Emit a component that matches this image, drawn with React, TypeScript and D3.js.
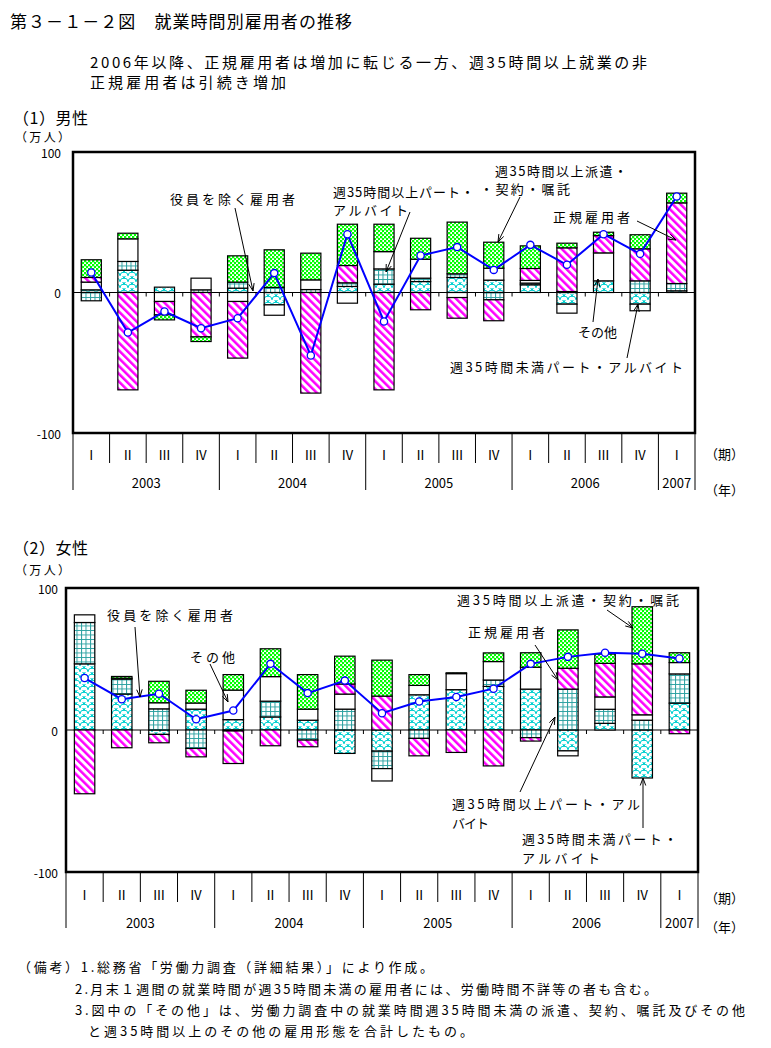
import React from 'react';
import * as d3 from 'd3';

const FONT = "'Noto Sans CJK JP', 'Noto Sans', sans-serif";

const quarterLabels = ['Ⅰ', 'Ⅱ', 'Ⅲ', 'Ⅳ', 'Ⅰ', 'Ⅱ', 'Ⅲ', 'Ⅳ', 'Ⅰ', 'Ⅱ', 'Ⅲ', 'Ⅳ', 'Ⅰ', 'Ⅱ', 'Ⅲ', 'Ⅳ', 'Ⅰ'];
const yearLabels = ['2003', '2004', '2005', '2006', '2007'];
const yearStarts = [0, 4, 8, 12, 16];
const yearEnds = [4, 8, 12, 16, 17];
const yTicks = [100, 0, -100];

const seriesKeys = ['lt35', 'ge35', 'other', 'regular', 'dispatch'];
const seriesNames = ['週35時間未満パート・アルバイト', '週35時間以上パート・アルバイト', 'その他', '正規雇用者', '週35時間以上派遣・契約・嘱託'];

// (1) 男性 (万人, 前年同期差)
const maleLt35 = [1.9, 15.9, 3.8, 0, 3.1, -8.8, 0, 4.3, 5.9, 7.8, 10.7, 8.8, 5.5, -8.3, 8.3, -8.3, 1.2];
const maleGe35 = [-5.9, 6.2, 0, 1.9, 4.3, 3.6, 2.1, 2.6, 10.9, 2.4, 2.6, -5.2, 1.2, 0.7, 0, 8.3, 5.2];
const maleOther = [5.5, 16.1, -6.4, 8.3, -6.4, -7.4, 6.9, -7.6, 12.3, 13.5, -3.6, 8.5, 1.9, -6.4, 19.9, -4.7, 0];
const maleRegular = [3.3, -69.3, -9.5, -31.6, -40.3, 0, -71.6, 12.3, -69.3, -12.3, -14.7, -14.9, 8.5, 31.1, 12.3, 22.8, 57.4];
const maleDispatch = [12.6, 4.0, -3.6, -3.3, 18.7, 26.8, 19.0, 29.4, 19.5, 14.9, 36.8, 18.5, 16.1, 3.3, 2.4, 10.0, 6.9];
const maleTotal = [14.2, -28.5, -13.5, -25.4, -18.3, 13.8, -44.8, 41.5, -20.6, 26.3, 32.3, 16.1, 33.9, 19.7, 41.5, 27.5, 68.3];

// (2) 女性
const femaleLt35 = [46.6, 25.3, -3.1, 14.7, 7.3, 9.2, 6.9, -16.5, -14.9, 24.8, 28.4, 30.7, 28.8, -14.7, 4.7, -33.8, 18.9];
const femaleGe35 = [29.1, 10.6, 14.9, -13.0, -0.7, 11.1, -7.1, 14.7, -12.3, -5.9, 0, 4.5, -5.4, 28.8, 9.9, 6.9, 20.6];
const femaleOther = [5.4, 0.6, 4.3, 4.3, 20.8, 17.3, 7.8, 10.6, -8.7, 6.6, 11.3, 13.0, 15.4, -3.5, 8.7, 3.8, 8.0];
const femaleRegular = [-44.9, -12.5, -5.9, -5.9, -22.9, -11.1, -4.7, 7.1, 23.9, -12.3, -15.8, -25.3, -2.4, 14.7, 23.6, 35.9, -2.6];
const femaleDispatch = [0, 1.2, 15.1, 9.0, 10.9, 19.6, 24.3, 19.6, 25.3, 7.6, 0.6, 6.1, 10.2, 27.0, 6.6, 40.2, 6.9];
const femaleTotal = [36.6, 21.7, 25.5, 7.6, 13.7, 46.6, 26.0, 34.8, 11.8, 20.1, 23.2, 29.1, 46.6, 51.5, 54.4, 53.7, 50.4];

const patternIds = ['pWave', 'pGrid', 'pWhite', 'pPink', 'pGreen'];

type TL = { t: string; x: number; y: number; w: number };
type Ann = { lines: TL[]; arrow: [number, number, number, number] };

const maleAnns: Ann[] = [
  { lines: [{ t: '役員を除く雇用者', x: 170, y: 198, w: 125 }], arrow: [235, 208, 253, 291] },
  { lines: [{ t: '週35時間以上パート・', x: 333, y: 191, w: 141 }, { t: 'アルバイト', x: 333, y: 209, w: 75 }], arrow: [410, 212, 386, 272] },
  { lines: [{ t: '週35時間以上派遣・', x: 495, y: 170, w: 132 }, { t: '・契約・嘱託', x: 480, y: 188, w: 90 }], arrow: [520, 197, 498, 242] },
  { lines: [{ t: '正規雇用者', x: 553, y: 216, w: 77 }], arrow: [637, 221, 676, 240] },
  { lines: [{ t: 'その他', x: 578, y: 331, w: 39 }], arrow: [593, 322, 598, 279] },
  { lines: [{ t: '週35時間未満パート・アルバイト', x: 450, y: 366, w: 233 }], arrow: [627, 358, 638, 304] },
];

const femaleAnns: Ann[] = [
  { lines: [{ t: '役員を除く雇用者', x: 107, y: 614, w: 126 }], arrow: [135, 627, 140, 697] },
  { lines: [{ t: 'その他', x: 190, y: 656, w: 45 }], arrow: [210, 664, 228, 702] },
  { lines: [{ t: '週35時間以上派遣・契約・嘱託', x: 457, y: 599, w: 222 }], arrow: [607, 610, 633, 628] },
  { lines: [{ t: '正規雇用者', x: 468, y: 631, w: 77 }], arrow: [535, 645, 558, 680] },
  { lines: [{ t: '週35時間以上パート・アル', x: 452, y: 803, w: 188 }, { t: 'バイト', x: 452, y: 822, w: 37 }], arrow: [520, 792, 555, 717] },
  { lines: [{ t: '週35時間未満パート・', x: 522, y: 838, w: 155 }, { t: 'アルバイト', x: 522, y: 857, w: 78 }], arrow: [643, 828, 643, 778] },
];

function Arrow({ a }: { a: [number, number, number, number] }) {
  const [x1, y1, x2, y2] = a;
  const ang = Math.atan2(y2 - y1, x2 - x1);
  const L = 8, s = 0.35;
  const p1 = [x2 - L * Math.cos(ang - s), y2 - L * Math.sin(ang - s)];
  const p2 = [x2 - L * Math.cos(ang + s), y2 - L * Math.sin(ang + s)];
  return (
    <g stroke="#000" strokeWidth={1} fill="none">
      <line x1={x1} y1={y1} x2={x2} y2={y2} />
      <polyline points={`${p1[0]},${p1[1]} ${x2},${y2} ${p2[0]},${p2[1]}`} />
    </g>
  );
}

function Txt({ l, size = 13 }: { l: TL; size?: number }) {
  return (
    <text x={l.x} y={l.y} fontSize={size} fontFamily={FONT} dominantBaseline="central"
      textLength={l.w} lengthAdjust="spacing" fill="#000">{l.t}</text>
  );
}

type PanelProps = {
  x0: number; x1: number; yTop: number; yBot: number;
  data: number[][]; total: number[];
  labelRight: number; qBottom: number; yrBottom: number; qLabelY: number; yrLabelY: number;
  kiX: number; kiY: number; nenY: number; anns: Ann[];
};

function Panel(p: PanelProps) {
  const x = d3.scaleBand<number>().domain(d3.range(17)).range([p.x0, p.x1]).paddingInner(0.45).paddingOuter(0.225);
  const y = d3.scaleLinear().domain([-100, 100]).range([p.yBot, p.yTop]);
  const rows = d3.range(17).map(i => {
    const r: any = {};
    seriesKeys.forEach((k, j) => { r[k] = p.data[j][i]; });
    return r;
  });
  const stacked = d3.stack<any>().keys(seriesKeys).offset(d3.stackOffsetDiverging)(rows);
  const step = x.step();
  const bnd = (i: number) => p.x0 + step * i;
  const y0 = y(0);
  const cx = (i: number) => (x(i) as number) + x.bandwidth() / 2;
  const linePath = d3.line<number>().x((_, i) => cx(i)).y(d => y(d))(p.total) as string;
  const yearBounds = new Set([0, 4, 8, 12, 16, 17]);

  return (
    <g>
      <rect x={p.x0} y={p.yTop} width={p.x1 - p.x0} height={p.yBot - p.yTop} fill="#fff" />
      <line x1={p.x0} x2={p.x1} y1={y0} y2={y0} stroke="#000" strokeWidth={1} />
      {d3.range(1, 17).map(i => (
        <line key={'t' + i} x1={bnd(i)} x2={bnd(i)} y1={y0} y2={y0 + 4} stroke="#000" strokeWidth={1} />
      ))}
      {stacked.map((s, j) => (
        <g key={s.key}>
          {s.map((d, i) => {
            const v0 = d[0], v1 = d[1];
            if (Math.abs(v1 - v0) < 0.05) return null;
            const ya = y(Math.max(v0, v1)), yb = y(Math.min(v0, v1));
            return (
              <rect key={i} x={x(i)} y={ya} width={x.bandwidth()} height={yb - ya}
                fill={`url(#${patternIds[j]})`} stroke="#000" strokeWidth={1.2}>
                <title>{seriesNames[j]}</title>
              </rect>
            );
          })}
        </g>
      ))}
      <path d={linePath} fill="none" stroke="#0000ff" strokeWidth={2} />
      {p.total.map((v, i) => (
        <circle key={'c' + i} cx={cx(i)} cy={y(v)} r={3.6} fill="#fff" stroke="#0000ff" strokeWidth={1.3} />
      ))}
      <rect x={p.x0} y={p.yTop} width={p.x1 - p.x0} height={p.yBot - p.yTop} fill="none" stroke="#000" strokeWidth={2.5} />
      {yTicks.map(t => (
        <text key={'yl' + t} x={p.labelRight} y={y(t)} fontSize={12} fontFamily={FONT} textAnchor="end"
          dominantBaseline="central">{t}</text>
      ))}
      {d3.range(0, 18).map(i => (
        <line key={'d' + i} x1={bnd(i)} x2={bnd(i)} y1={p.yBot} y2={yearBounds.has(i) ? p.yrBottom : p.qBottom}
          stroke="#000" strokeWidth={1} />
      ))}
      {quarterLabels.map((q, i) => (
        <text key={'q' + i} x={cx(i)} y={p.qLabelY} fontSize={13} fontFamily={FONT} textAnchor="middle"
          dominantBaseline="central">{q}</text>
      ))}
      {yearLabels.map((yl, k) => (
        <text key={'y' + k} x={(bnd(yearStarts[k]) + bnd(yearEnds[k])) / 2} y={p.yrLabelY} fontSize={13}
          fontFamily={FONT} textAnchor="middle" dominantBaseline="central">{yl}</text>
      ))}
      <text x={p.kiX} y={p.kiY} fontSize={13} fontFamily={FONT} dominantBaseline="central">（期）</text>
      <text x={p.kiX} y={p.nenY} fontSize={13} fontFamily={FONT} dominantBaseline="central">（年）</text>
      {p.anns.map((a, k) => (
        <g key={'a' + k}>
          {a.lines.map((l, m) => <Txt key={m} l={l} />)}
          <Arrow a={a.arrow} />
        </g>
      ))}
    </g>
  );
}

export default function App() {
  const maleData = [maleLt35, maleGe35, maleOther, maleRegular, maleDispatch];
  const femaleData = [femaleLt35, femaleGe35, femaleOther, femaleRegular, femaleDispatch];
  return (
    <svg width={771} height={1048} style={{ position: 'absolute', left: 0, top: 0, background: '#fff' }}
      xmlns="http://www.w3.org/2000/svg">
      <defs>
        <pattern id="pPink" patternUnits="userSpaceOnUse" width={5.5} height={5.5} patternTransform="rotate(-45)">
          <rect width={5.5} height={5.5} fill="#fff" />
          <rect x={0} y={0} width={2.5} height={5.5} fill="#ff00ff" />
        </pattern>
        <pattern id="pWave" patternUnits="userSpaceOnUse" width={8} height={6}>
          <rect width={8} height={6} fill="#fff" />
          <g fill="none" stroke="#00d0d0" strokeWidth={1}>
            <path d="M0,6 A4,4 0 0 1 8,6" />
            <path d="M-4,3 A4,4 0 0 1 4,3" />
            <path d="M4,3 A4,4 0 0 1 12,3" />
          </g>
        </pattern>
        <pattern id="pGrid" patternUnits="userSpaceOnUse" width={4.5} height={4.5}>
          <rect width={4.5} height={4.5} fill="#fff" />
          <path d="M0,0.5 H4.5 M0.5,0 V4.5" stroke="#2aa0a0" strokeWidth={1} />
        </pattern>
        <pattern id="pWhite" patternUnits="userSpaceOnUse" width={4} height={4}>
          <rect width={4} height={4} fill="#fff" />
        </pattern>
        <pattern id="pGreen" patternUnits="userSpaceOnUse" width={4} height={4}>
          <rect width={4} height={4} fill="#fff" />
          <rect x={0} y={0} width={2.3} height={2.3} fill="#00ff00" />
          <rect x={2} y={2} width={2.3} height={2.3} fill="#00ff00" />
        </pattern>
      </defs>
      <rect width={771} height={1048} fill="#fff" />

      <Txt l={{ t: '第３－１－２図　就業時間別雇用者の推移', x: 10, y: 20, w: 342 }} size={17} />
      <Txt l={{ t: '2006年以降、正規雇用者は増加に転じる一方、週35時間以上就業の非', x: 90, y: 61, w: 557 }} size={15} />
      <Txt l={{ t: '正規雇用者は引続き増加', x: 90, y: 81, w: 196 }} size={15} />

      <Txt l={{ t: '（1）男性', x: 13, y: 117, w: 75 }} size={16} />
      <Txt l={{ t: '（万人）', x: 15, y: 136, w: 55 }} size={12} />

      <Panel x0={73} x1={695} yTop={152} yBot={433} data={maleData} total={maleTotal}
        labelRight={61} qBottom={463} yrBottom={490} qLabelY={454} yrLabelY={482}
        kiX={705} kiY={453} nenY={489} anns={maleAnns} />

      <Txt l={{ t: '（2）女性', x: 13, y: 547, w: 75 }} size={16} />
      <Txt l={{ t: '（万人）', x: 15, y: 569, w: 55 }} size={12} />

      <Panel x0={66} x1={698} yTop={588} yBot={872} data={femaleData} total={femaleTotal}
        labelRight={58} qBottom={902} yrBottom={928} qLabelY={894} yrLabelY={922}
        kiX={705} kiY={897} nenY={926} anns={femaleAnns} />

      <Txt l={{ t: '（備考）1.総務省「労働力調査（詳細結果）」により作成。', x: 18, y: 966, w: 415 }} size={13} />
      <Txt l={{ t: '2.月末１週間の就業時間が週35時間未満の雇用者には、労働時間不詳等の者も含む。', x: 75, y: 988, w: 582 }} size={13} />
      <Txt l={{ t: '3.図中の「その他」は、労働力調査中の就業時間週35時間未満の派遣、契約、嘱託及びその他', x: 75, y: 1009, w: 670 }} size={13} />
      <Txt l={{ t: 'と週35時間以上のその他の雇用形態を合計したもの。', x: 88, y: 1030, w: 385 }} size={13} />
    </svg>
  );
}
